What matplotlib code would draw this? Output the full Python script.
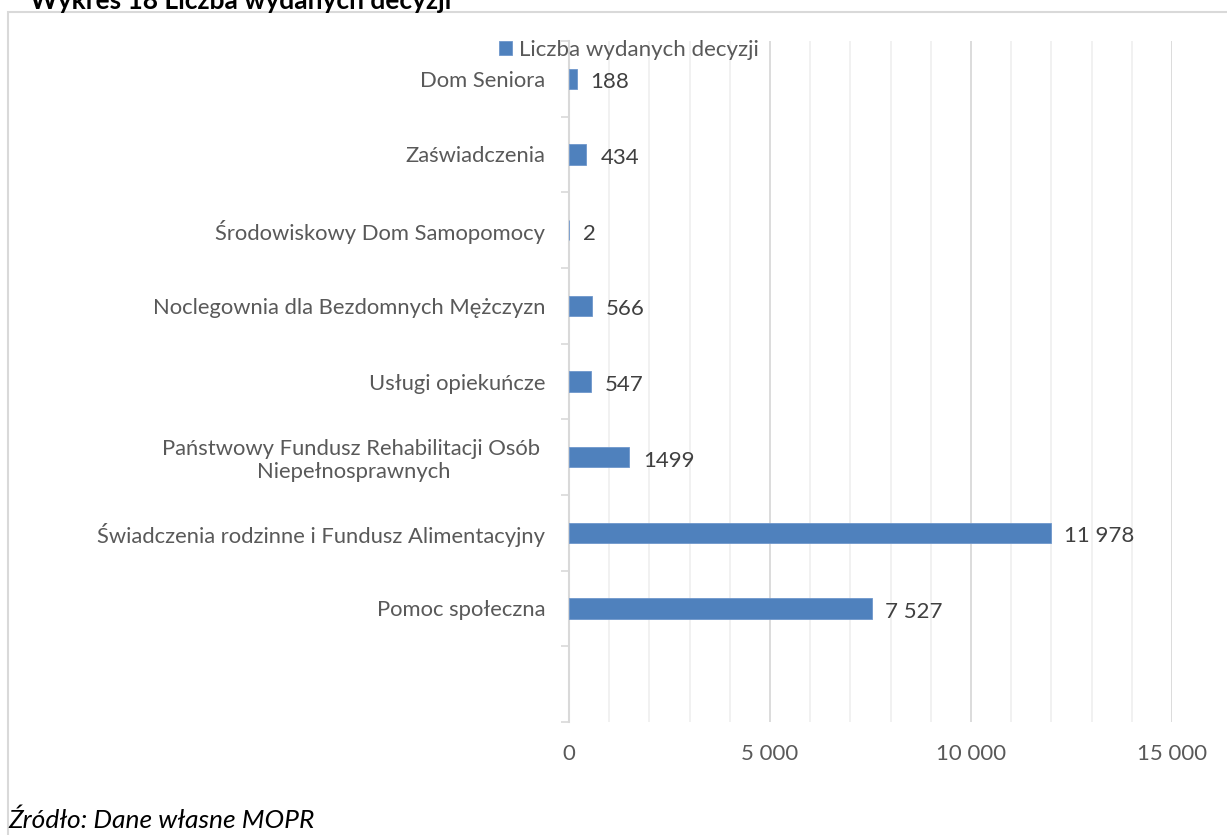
import matplotlib.pyplot as plt
from matplotlib.patches import Rectangle
from matplotlib.ticker import MultipleLocator, FuncFormatter

plt.rcParams['font.family'] = ['Lato', 'DejaVu Sans']

# bottom to top, first slot is left empty as in the original
categories = ["", "Pomoc społeczna",
              "Świadczenia rodzinne i Fundusz Alimentacyjny",
              "Państwowy Fundusz Rehabilitacji Osób \nNiepełnosprawnych",
              "Usługi opiekuńcze",
              "Noclegownia dla Bezdomnych Mężczyzn",
              "Środowiskowy Dom Samopomocy",
              "Zaświadczenia",
              "Dom Seniora"]
values = [0, 7527, 11978, 1499, 547, 566, 2, 434, 188]
value_labels = ["", "7 527", "11 978", "1499", "547", "566", "2", "434", "188"]
series_name = "Liczba wydanych decyzji"
x_ticks = [0, 5000, 10000, 15000]

W, H = 1227, 835
fig = plt.figure(figsize=(W / 100, H / 100), dpi=100)
ax = fig.add_axes([569 / W, 1 - 722 / H, (1172 - 569) / W, (722 - 41) / H])

pos = list(range(len(categories)))
ax.barh(pos[1:], values[1:], height=0.27, color="#4f81bd",
        edgecolor="#6f97cc", linewidth=0.6, label=series_name, zorder=3)

for p, v, lab in zip(pos[1:], values[1:], value_labels[1:]):
    ax.annotate(lab, (v, p), xytext=(10, -1), textcoords="offset points",
                va="center_baseline", ha="left", fontsize=16, color="#404040")

ax.set_xlim(0, 15000)
ax.set_ylim(-0.5, len(categories) - 0.5)

ax.set_xticks(x_ticks)
ax.xaxis.set_major_formatter(FuncFormatter(lambda x, _: f"{int(x):,}".replace(",", " ")))
ax.xaxis.set_minor_locator(MultipleLocator(1000))
ax.grid(axis="x", which="major", color="#d9d9d9", linewidth=1.3, zorder=0)
ax.grid(axis="x", which="minor", color="#f0f0f0", linewidth=1.3, zorder=0)
ax.tick_params(axis="x", which="both", length=0, pad=16, labelsize=16, labelcolor="#595959")

ax.set_yticks(pos[1:])
ax.set_yticklabels(categories[1:], multialignment="center")
ax.set_yticks([p - 0.5 for p in pos] + [len(categories) - 0.5], minor=True)
ax.tick_params(axis="y", which="major", length=0, pad=17, labelsize=15.8, labelcolor="#595959")
ax.tick_params(axis="y", which="minor", length=6, width=1.2, color="#d9d9d9")

for s in ["top", "right", "bottom"]:
    ax.spines[s].set_visible(False)
ax.spines["left"].set_color("#d9d9d9")
ax.spines["left"].set_linewidth(1.5)

fig.legend(loc="center", bbox_to_anchor=(629 / W, 1 - 50 / H), frameon=False,
           fontsize=16, labelcolor="#595959", handlelength=0.6, handleheight=0.6,
           handletextpad=0.3, borderpad=0)

# chart border (runs off the right and bottom edges)
fig.patches.append(Rectangle((8 / W, -0.1), 1.2, 1 - 12 / H + 0.1, transform=fig.transFigure,
                             fill=False, edgecolor="#d9d9d9", linewidth=1.5))

fig.text(30 / W, 1 - 1 / H, "Wykres 18 Liczba wydanych decyzji", fontsize=19,
         fontweight="bold", va="center", ha="left", color="black")
fig.text(8 / W, 1 - 820 / H, "Źródło: Dane własne MOPR", fontsize=19,
         style="italic", va="center", ha="left", color="black")

fig.savefig("out.png", dpi=100)
